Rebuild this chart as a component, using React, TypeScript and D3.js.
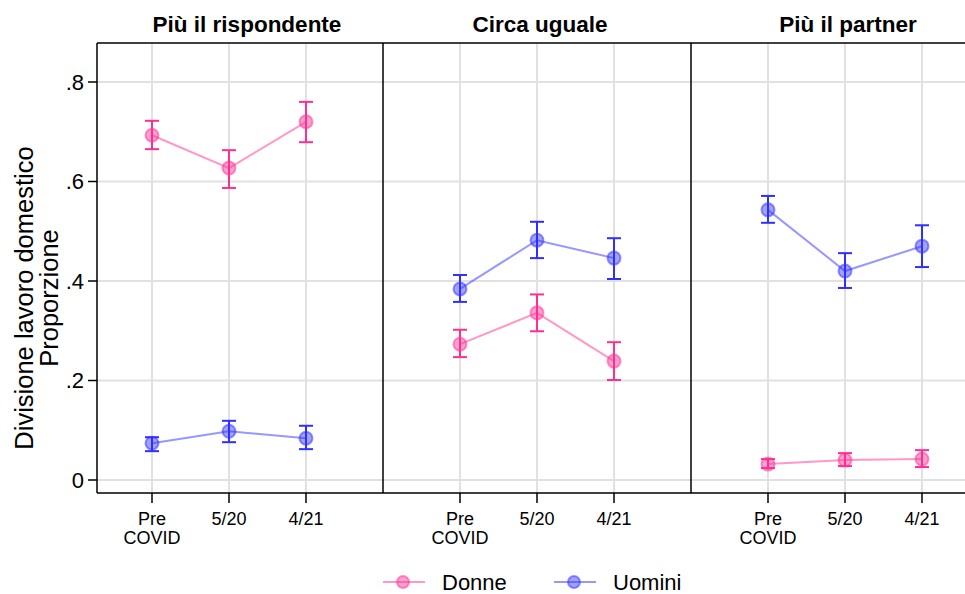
import React from 'react';
import * as d3 from 'd3';

const W = 965;
const H = 594;

const panels = ['Più il rispondente', 'Circa uguale', 'Più il partner'];
const waves = ['Pre\nCOVID', '5/20', '4/21'];
const yTicks = [0, 0.2, 0.4, 0.6, 0.8];
const yTickLabels = ['0', '.2', '.4', '.6', '.8'];

// [panel][wave] = [estimate, lower, upper]
const donne = [
  [[0.693, 0.665, 0.722], [0.627, 0.587, 0.663], [0.72, 0.679, 0.76]],
  [[0.273, 0.247, 0.302], [0.336, 0.299, 0.373], [0.239, 0.201, 0.277]],
  [[0.032, 0.024, 0.042], [0.04, 0.028, 0.054], [0.042, 0.026, 0.06]],
];
const uomini = [
  [[0.074, 0.058, 0.086], [0.098, 0.076, 0.119], [0.084, 0.062, 0.109]],
  [[0.384, 0.358, 0.412], [0.482, 0.446, 0.519], [0.446, 0.404, 0.486]],
  [[0.543, 0.517, 0.571], [0.42, 0.386, 0.456], [0.47, 0.428, 0.512]],
];

const seriesList = [
  { name: 'Donne', data: donne, color: '#ff2f92' },
  { name: 'Uomini', data: uomini, color: '#2f2fff' },
];

const top = 43;
const bottom = 493;
const plotLeft = 97;
const panelW = 308;
const panelX0 = [75, 383, 691];

const y = d3.scaleLinear().domain([0, 0.8]).range([480, 82]);
const xIn = d3.scaleLinear().domain([0, 4]).range([0, panelW]);

const font = "'Liberation Sans', Arial, sans-serif";

export default function App() {
  const grid = '#e1e1e1';
  return (
    <svg width={W} height={H} style={{ position: 'absolute', left: 0, top: 0, background: '#fff' }} fontFamily={font}>
      <rect width={W} height={H} fill="#fff" />
      {/* horizontal grid */}
      {yTicks.map((t) => (
        <line key={t} x1={plotLeft} x2={W} y1={y(t)} y2={y(t)} stroke={grid} strokeWidth={2} />
      ))}
      {panels.map((p, pi) => {
        const ox = panelX0[pi];
        const left = Math.max(ox, plotLeft);
        const right = Math.min(ox + panelW, W);
        const titleX = pi === 0 ? 247 : ox + panelW / 2 + 3;
        return (
          <g key={p}>
            {waves.map((w, wi) => {
              const x = ox + xIn(wi + 1);
              const lines = w.split('\n');
              return (
                <g key={w}>
                  <line x1={x} x2={x} y1={top} y2={bottom} stroke={grid} strokeWidth={2} />
                  <line x1={x} x2={x} y1={bottom} y2={bottom + 10} stroke="#000" strokeWidth={1.5} />
                  {lines.map((l, li) => (
                    <text key={l} x={x} y={525 + li * 19} textAnchor="middle" fontSize={18}>{l}</text>
                  ))}
                </g>
              );
            })}
            {seriesList.map((s) => {
              const pts = s.data[pi].map((d, wi) => ({ x: ox + xIn(wi + 1), v: d[0], lo: d[1], hi: d[2] }));
              const line = d3.line<any>().x((d) => d.x).y((d) => y(d.v));
              return (
                <g key={s.name}>
                  <path d={line(pts) || ''} fill="none" stroke={s.color} strokeOpacity={0.5} strokeWidth={2} />
                  {pts.map((d, i) => (
                    <g key={i} stroke={s.color} strokeWidth={2}>
                      <line x1={d.x} x2={d.x} y1={y(d.lo)} y2={y(d.hi)} />
                      <line x1={d.x - 7} x2={d.x + 7} y1={y(d.lo)} y2={y(d.lo)} />
                      <line x1={d.x - 7} x2={d.x + 7} y1={y(d.hi)} y2={y(d.hi)} />
                      <circle cx={d.x} cy={y(d.v)} r={6.5} fill={s.color} fillOpacity={0.45} strokeOpacity={0.5} />
                    </g>
                  ))}
                </g>
              );
            })}
            <line x1={left} x2={left} y1={top} y2={bottom} stroke="#000" strokeWidth={1.5} />
            <line x1={left} x2={right} y1={top} y2={top} stroke="#000" strokeWidth={1.5} />
            <line x1={left} x2={right} y1={bottom} y2={bottom} stroke="#000" strokeWidth={1.5} />
            <text x={titleX} y={32} textAnchor="middle" fontSize={22.5} fontWeight="bold">{p}</text>
          </g>
        );
      })}
      {/* y axis */}
      {yTicks.map((t, i) => (
        <g key={t}>
          <line x1={plotLeft - 9} x2={plotLeft} y1={y(t)} y2={y(t)} stroke="#000" strokeWidth={1.5} />
          <text x={plotLeft - 13} y={y(t)} dy="0.36em" textAnchor="end" fontSize={22}>{yTickLabels[i]}</text>
        </g>
      ))}
      <text transform={`translate(33,298) rotate(-90)`} textAnchor="middle" fontSize={25.5}>Divisione lavoro domestico</text>
      <text transform={`translate(57.5,298) rotate(-90)`} textAnchor="middle" fontSize={25.5}>Proporzione</text>
      {/* legend */}
      {seriesList.map((s, i) => {
        const lx = 383 + i * 171;
        return (
          <g key={s.name}>
            <line x1={lx} x2={lx + 42} y1={582} y2={582} stroke={s.color} strokeOpacity={0.5} strokeWidth={2} />
            <circle cx={lx + 20} cy={582} r={6} fill={s.color} fillOpacity={0.45} stroke={s.color} strokeOpacity={0.5} strokeWidth={2} />
            <text x={lx + 59} y={589.5} fontSize={22}>{s.name}</text>
          </g>
        );
      })}
    </svg>
  );
}
